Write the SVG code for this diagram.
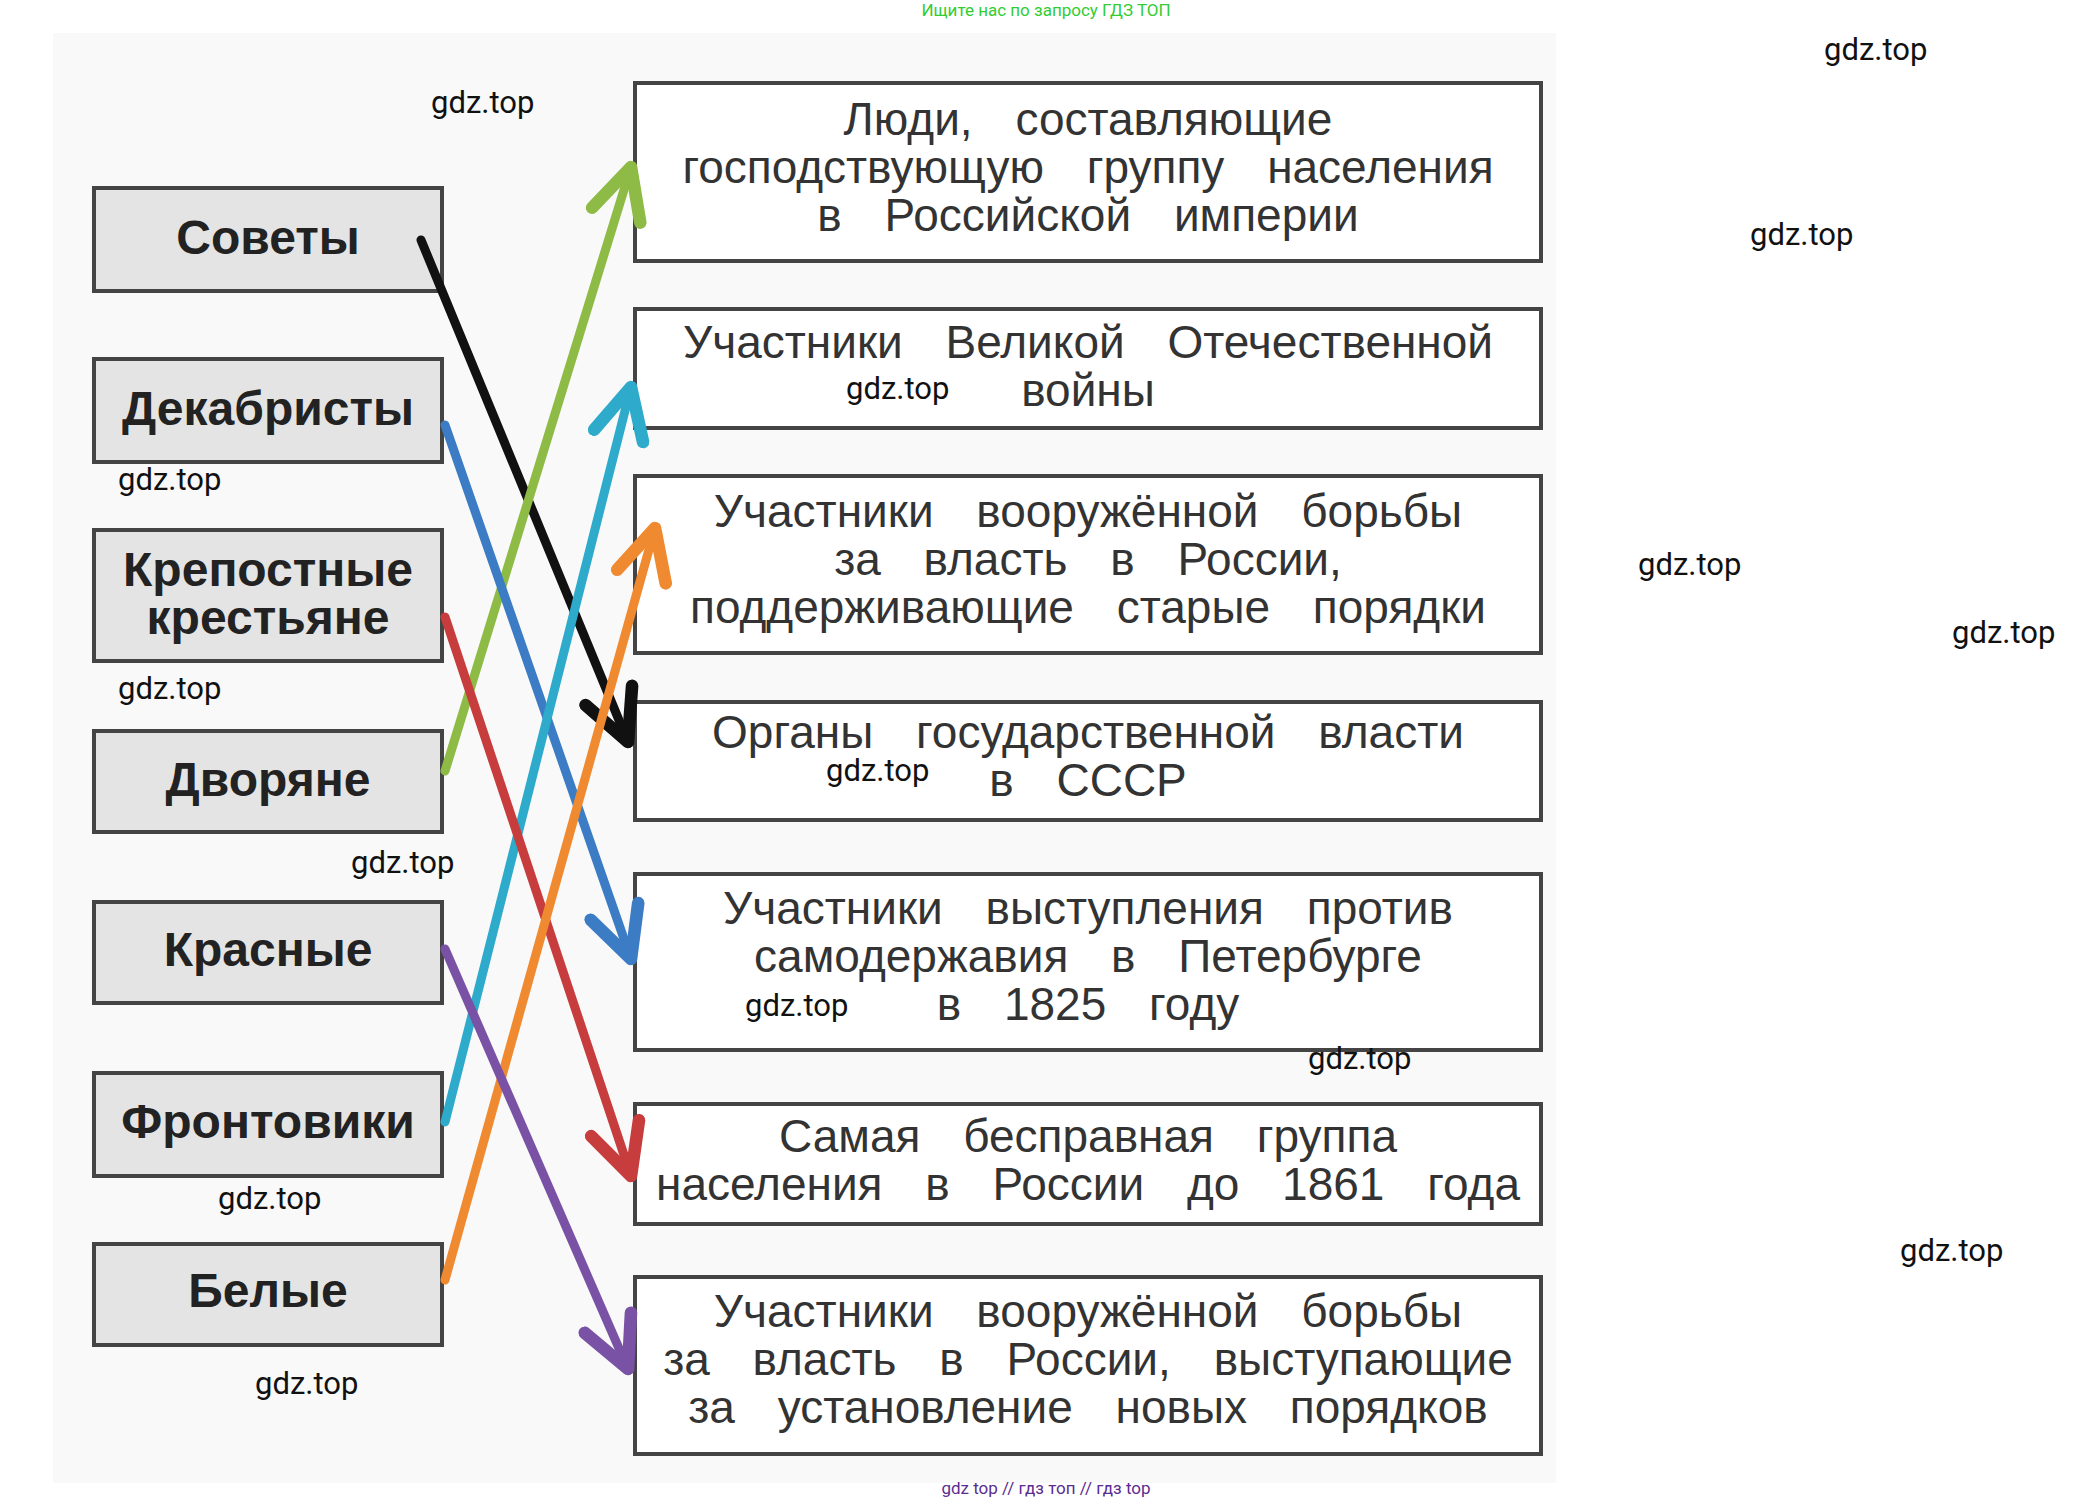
<svg xmlns="http://www.w3.org/2000/svg" width="2084" height="1497" viewBox="0 0 2084 1497">
<style>
.lb{fill:#e4e4e4;stroke:#444;stroke-width:4}
.rb{fill:#fff;stroke:#444;stroke-width:4}
.lt{font-family:"Liberation Sans",Arial,sans-serif;font-weight:bold;font-size:48px;fill:#222;text-anchor:middle}
.rt{font-family:"Liberation Sans",Arial,sans-serif;font-size:46px;fill:#333;text-anchor:middle;word-spacing:30px}
.wm{font-family:Roboto,"Liberation Sans",sans-serif;font-size:31px;fill:#111}
.a{fill:none;stroke-width:9;stroke-linecap:round}
</style>
<defs>
<marker id="h" viewBox="0 0 10 10" refX="9" refY="5" markerWidth="7" markerHeight="7" markerUnits="strokeWidth" orient="auto">
<path d="M1,1 L9,5 L1,9" fill="none" stroke="context-stroke" stroke-width="2" stroke-linecap="round" stroke-linejoin="round"/>
</marker>
</defs>
<rect x="0" y="0" width="2084" height="1497" fill="#fff"/>
<rect x="53" y="33" width="1503" height="1450" fill="#f9f9f9"/>
<text x="1046" y="16" font-family="Roboto,'Liberation Sans',sans-serif" font-size="17" fill="#33cc33" text-anchor="middle">Ищите нас по запросу ГДЗ ТОП</text>
<g id="n-sovety"><rect class="lb" x="94" y="188" width="348" height="103"/><text class="lt" x="268" y="254">Советы</text></g>
<g id="n-dekabristy"><rect class="lb" x="94" y="359" width="348" height="103"/><text class="lt" x="268" y="425">Декабристы</text></g>
<g id="n-krepostnye"><rect class="lb" x="94" y="530" width="348" height="131"/><text class="lt" x="268" y="586">Крепостные</text><text class="lt" x="268" y="634">крестьяне</text></g>
<g id="n-dvoryane"><rect class="lb" x="94" y="731" width="348" height="101"/><text class="lt" x="268" y="796">Дворяне</text></g>
<g id="n-krasnye"><rect class="lb" x="94" y="902" width="348" height="101"/><text class="lt" x="268" y="966">Красные</text></g>
<g id="n-frontoviki"><rect class="lb" x="94" y="1073" width="348" height="103"/><text class="lt" x="268" y="1138">Фронтовики</text></g>
<g id="n-belye"><rect class="lb" x="94" y="1244" width="348" height="101"/><text class="lt" x="268" y="1307">Белые</text></g>
<g id="r1"><rect class="rb" x="635" y="83" width="906" height="178"/><text class="rt" x="1088" y="135">Люди, составляющие</text><text class="rt" x="1088" y="183">господствующую группу населения</text><text class="rt" x="1088" y="231">в Российской империи</text></g>
<g id="r2"><rect class="rb" x="635" y="309" width="906" height="119"/><text class="rt" x="1088" y="358">Участники Великой Отечественной</text><text class="rt" x="1088" y="406">войны</text></g>
<g id="r3"><rect class="rb" x="635" y="476" width="906" height="177"/><text class="rt" x="1088" y="527">Участники вооружённой борьбы</text><text class="rt" x="1088" y="575">за власть в России,</text><text class="rt" x="1088" y="623">поддерживающие старые порядки</text></g>
<g id="r4"><rect class="rb" x="635" y="702" width="906" height="118"/><text class="rt" x="1088" y="748">Органы государственной власти</text><text class="rt" x="1088" y="796">в СССР</text></g>
<g id="r5"><rect class="rb" x="635" y="874" width="906" height="176"/><text class="rt" x="1088" y="924">Участники выступления против</text><text class="rt" x="1088" y="972">самодержавия в Петербурге</text><text class="rt" x="1088" y="1020">в 1825 году</text></g>
<g id="r6"><rect class="rb" x="635" y="1104" width="906" height="120"/><text class="rt" x="1088" y="1152">Самая бесправная группа</text><text class="rt" x="1088" y="1200">населения в России до 1861 года</text></g>
<g id="r7"><rect class="rb" x="635" y="1277" width="906" height="177"/><text class="rt" x="1088" y="1327">Участники вооружённой борьбы</text><text class="rt" x="1088" y="1375">за власть в России, выступающие</text><text class="rt" x="1088" y="1423">за установление новых порядков</text></g>
<g id="connectors">
<line class="a" stroke="#111" x1="421" y1="240" x2="628" y2="742" marker-end="url(#h)"/>
<line class="a" stroke="#8dbb45" x1="445" y1="771" x2="631" y2="167" marker-end="url(#h)"/>
<line class="a" stroke="#3b7cc4" x1="445" y1="425" x2="631" y2="959" marker-end="url(#h)"/>
<line class="a" stroke="#2eaacb" x1="445" y1="1122" x2="631" y2="387" marker-end="url(#h)"/>
<line class="a" stroke="#c73c3c" x1="445" y1="617" x2="631" y2="1176" marker-end="url(#h)"/>
<line class="a" stroke="#f08a30" x1="445" y1="1280" x2="655" y2="528" marker-end="url(#h)"/>
<line class="a" stroke="#7a52a5" x1="445" y1="949" x2="628" y2="1369" marker-end="url(#h)"/>
</g>
<g id="watermarks">
<text class="wm" x="1824" y="60">gdz.top</text>
<text class="wm" x="431" y="113">gdz.top</text>
<text class="wm" x="1750" y="245">gdz.top</text>
<text class="wm" x="846" y="399">gdz.top</text>
<text class="wm" x="118" y="490">gdz.top</text>
<text class="wm" x="1638" y="575">gdz.top</text>
<text class="wm" x="1952" y="643">gdz.top</text>
<text class="wm" x="118" y="699">gdz.top</text>
<text class="wm" x="826" y="781">gdz.top</text>
<text class="wm" x="351" y="873">gdz.top</text>
<text class="wm" x="745" y="1016">gdz.top</text>
<text class="wm" x="1308" y="1069">gdz.top</text>
<text class="wm" x="218" y="1209">gdz.top</text>
<text class="wm" x="1900" y="1261">gdz.top</text>
<text class="wm" x="255" y="1394">gdz.top</text>
</g>
<text x="1046" y="1494" font-family="Roboto,'Liberation Sans',sans-serif" font-size="17" fill="#5b2d90" text-anchor="middle">gdz top  //  гдз топ  //  гдз top</text>
</svg>
